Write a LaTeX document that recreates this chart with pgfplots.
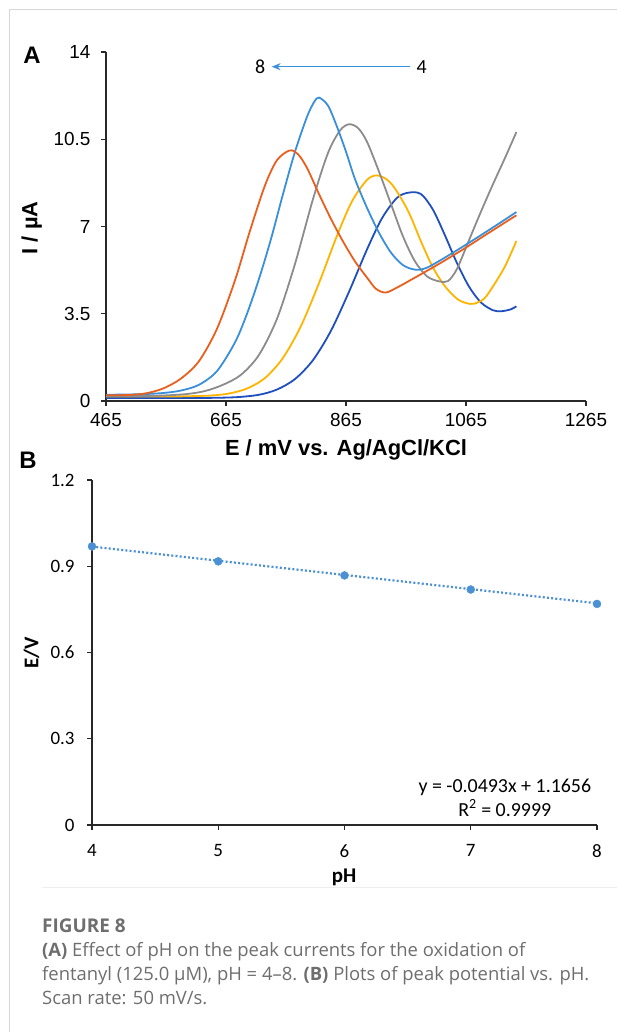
\documentclass[border=0pt]{standalone}
\usepackage{fontspec}
\setmainfont{Liberation Sans}
\newfontfamily\calfont{Carlito}
\newfontfamily\capfont{Open Sans}
\usepackage{pgfplots}
\pgfplotsset{compat=1.18}
\usetikzlibrary{arrows.meta}
\definecolor{cOr}{RGB}{235,95,30}
\definecolor{cLb}{RGB}{58,143,218}
\definecolor{cGr}{RGB}{140,140,140}
\definecolor{cYe}{RGB}{255,180,0}
\definecolor{cDb}{RGB}{31,79,191}
\definecolor{cPt}{RGB}{74,144,210}
\definecolor{cCap}{RGB}{110,110,110}
\definecolor{cAx}{RGB}{40,40,40}
\begin{document}
\begin{tikzpicture}
\useasboundingbox (0,0) rectangle (617bp,1032bp);
\draw[color={rgb,255:red,215;green,215;blue,215}, line width=1bp] (9bp,0) -- (9bp,1022bp) -- (617bp,1022bp);
\draw[color={rgb,255:red,238;green,238;blue,238}, line width=1bp] (42bp,144bp) -- (617bp,144bp);
% Panel A
\node[font=\bfseries\fontsize{24}{24}\selectfont] at (32bp,977bp) {A};
\begin{axis}[at={(106bp,631bp)}, anchor=south west, scale only axis,
  width=480bp, height=349bp,
  xmin=465, xmax=1265, ymin=0, ymax=14,
  axis lines*=left, clip=false,
  xtick={465,665,865,1065,1265}, ytick={0,3.5,7,10.5,14},
  tick align=outside, major tick length=5bp,
  tick style={cAx, line width=1.1bp},
  axis line style={cAx, line width=1.3bp},
  ticklabel style={font=\fontsize{19}{19}\selectfont},
  /pgf/number format/assume math mode=true,
  /pgf/number format/1000 sep={},
  xticklabel style={yshift=-4bp},
  yticklabel style={xshift=-7bp},
  every axis plot/.append style={line width=1.8bp, smooth, no marks},
]
% pH 4 (dark blue)
\addplot[cDb] coordinates {(465,0.12) (560,0.12) (620,0.12) (680,0.15) (720,0.25) (750,0.46) (780,0.88) (810,1.64) (840,2.82) (870,4.38) (900,6.08) (925,7.33) (950,8.15) (970,8.36) (990,8.3) (1010,7.67) (1030,6.64) (1050,5.53) (1070,4.59) (1090,3.95) (1110,3.64) (1124,3.6) (1140,3.68) (1149,3.8)};
% pH 5 (yellow)
\addplot[cYe] coordinates {(465,0.18) (560,0.18) (600,0.19) (640,0.22) (670,0.3) (700,0.5) (730,0.92) (760,1.73) (790,3.01) (820,4.73) (850,6.63) (875,8.01) (900,8.87) (917,9.05) (935,8.85) (950,8.4) (970,7.55) (990,6.4) (1010,5.35) (1030,4.6) (1050,4.1) (1065,3.93) (1078,3.9) (1095,4.1) (1110,4.6) (1130,5.4) (1149,6.42)};
% pH 6 (gray)
\addplot[cGr] coordinates {(465,0.2) (520,0.2) (560,0.22) (600,0.28) (630,0.4) (660,0.65) (690,1.05) (720,1.85) (750,3.3) (780,5.5) (810,8.1) (835,9.95) (855,10.85) (870,11.1) (885,10.95) (900,10.4) (920,9.2) (940,7.9) (960,6.6) (980,5.6) (1000,5.0) (1020,4.8) (1035,4.81) (1050,5.3) (1070,6.45) (1090,7.6) (1110,8.7) (1130,9.75) (1149,10.79)};
% pH 7 (light blue)
\addplot[cLb] coordinates {(465,0.25) (520,0.27) (560,0.32) (590,0.42) (620,0.65) (650,1.2) (680,2.35) (700,3.5) (720,4.9) (740,6.5) (760,8.3) (780,10.0) (800,11.4) (812,12.0) (820,12.17) (835,11.85) (850,11.0) (865,10.0) (880,8.9) (900,7.75) (920,6.75) (940,5.95) (960,5.45) (980,5.27) (1000,5.35) (1040,5.9) (1080,6.5) (1120,7.12) (1149,7.58)};
% pH 8 (orange)
\addplot[cOr] coordinates {(465,0.23) (500,0.24) (530,0.3) (560,0.5) (590,0.9) (620,1.6) (650,2.9) (680,4.84) (705,6.83) (730,8.65) (750,9.66) (771,10.05) (785,9.9) (800,9.35) (820,8.3) (840,7.3) (860,6.4) (880,5.6) (900,4.95) (915,4.5) (931,4.35) (950,4.55) (980,4.95) (1020,5.5) (1060,6.08) (1100,6.7) (1149,7.45)};
\draw[cLb, line width=1.4bp, -{Stealth[length=9bp,width=7bp]}] (axis cs:972,13.41) -- (axis cs:741,13.41);
\node[font=\calfont\fontsize{20}{20}\selectfont] at (axis cs:722,13.41) {8};
\node[font=\calfont\fontsize{20}{20}\selectfont] at (axis cs:991,13.41) {4};
\node[font=\bfseries\fontsize{22}{22}\selectfont, rotate=90] at (rel axis cs:-0.155,0.496) {I / µA};
\node[font=\bfseries\fontsize{22}{22}\selectfont] at (rel axis cs:0.5,-0.1404) {E / mV vs. Ag/AgCl/KCl};
\end{axis}
% Panel B
\node[font=\bfseries\fontsize{24}{24}\selectfont] at (28bp,572bp) {B};
\begin{axis}[at={(92bp,207bp)}, anchor=south west, scale only axis,
  width=505bp, height=345bp,
  xmin=4, xmax=8, ymin=0, ymax=1.2,
  axis lines*=left, clip=false,
  xtick={4,5,6,7,8}, ytick={0,0.3,0.6,0.9,1.2},
  tick align=outside, major tick length=5bp,
  tick style={cAx, line width=1.1bp},
  axis line style={cAx, line width=1.3bp},
  ticklabel style={font=\calfont\fontsize{19}{19}\selectfont},
  xticklabel style={yshift=-11bp},
  yticklabel style={xshift=-9bp, /pgf/number format/fixed, /pgf/number format/precision=1},
  /pgf/number format/assume math mode=true,
]
\addplot[cPt, line width=2.2bp, dash pattern=on 2bp off 2.2bp] coordinates {(4,0.9684) (8,0.7712)};
\addplot[cPt, only marks, mark=*, mark size=4bp] coordinates {(4,0.969) (5,0.917) (6,0.868) (7,0.819) (8,0.769)};
\node[font=\calfont\fontsize{20}{20}\selectfont] at (axis cs:7.27,0.1304) {y = -0.0493x + 1.1656};
\node[font=\calfont\fontsize{20}{20}\selectfont] at (axis cs:7.27,0.0591) {R\textsuperscript{2} = 0.9999};
\node[font=\calfont\bfseries\fontsize{21}{21}\selectfont, rotate=90] at (rel axis cs:-0.120,0.499) {E/V};
\node[font=\calfont\bfseries\fontsize{21}{21}\selectfont] at (rel axis cs:0.499,-0.153) {pH};
\end{axis}
% Caption
\begin{scope}[every node/.style={anchor=base west, inner sep=0, text=cCap, font=\capfont\fontsize{18.5}{18.5}\selectfont}]
\node[font=\capfont\bfseries\fontsize{19}{19}\selectfont] at (42bp,99bp) {FIGURE 8};
\node at (42bp,75bp) {\textbf{(A)} Effect of pH on the peak currents for the oxidation of};
\node at (42bp,51.5bp) {fentanyl (125.0 µM), pH = 4–8. \textbf{(B)} Plots of peak potential vs. pH.};
\node at (42bp,28bp) {Scan rate: 50 mV/s.};
\end{scope}
\end{tikzpicture}
\end{document}
